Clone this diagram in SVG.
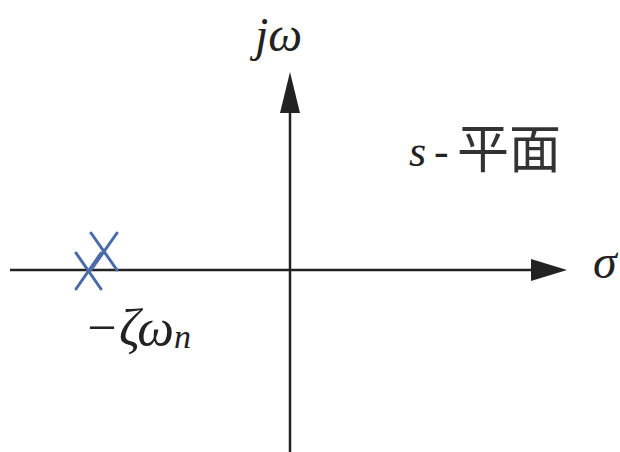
<svg xmlns="http://www.w3.org/2000/svg" width="620" height="452" viewBox="0 0 620 452">
<style>
.ax{stroke:#222;stroke-width:2.5;fill:none}
.pole{stroke:#4a6aa8;stroke-width:3;fill:none;stroke-linecap:round}
.t{font-family:"Liberation Serif","DejaVu Serif",serif;font-style:italic;fill:#222}
.c{font-family:"Noto Sans CJK SC",sans-serif;fill:#333}
</style>
<rect width="620" height="452" fill="#fff"/>
<g id="connectors">
<line class="ax" x1="10" y1="270" x2="533" y2="270"/>
<path d="M531,259 L567,270 L531,281 Z" fill="#222"/>
<line class="ax" x1="290" y1="452" x2="290" y2="110"/>
<path d="M280,113 L290,72 L300,113 Z" fill="#222"/>
</g>
<g id="pole1">
<line class="pole" x1="76" y1="253" x2="101" y2="289"/>
<line class="pole" x1="76" y1="289" x2="101" y2="253"/>
</g>
<g id="pole2">
<line class="pole" x1="91" y1="233" x2="117" y2="270"/>
<line class="pole" x1="91" y1="270" x2="117" y2="233"/>
</g>
<g id="label-jw"><text class="t" x="255" y="51" font-size="48">jω</text></g>
<g id="label-sigma"><text class="t" x="593" y="278" font-size="48">σ</text></g>
<g id="label-splane"><text class="t" x="409" y="166" font-size="44">s</text><text class="t" x="434" y="166" font-size="44" font-style="normal">-</text><text class="c" x="457" y="168" font-size="52">平面</text></g>
<g id="label-pole"><text class="t" x="84" y="345" font-size="52">−ζω<tspan font-size="34" dy="3">n</tspan></text></g>
</svg>
